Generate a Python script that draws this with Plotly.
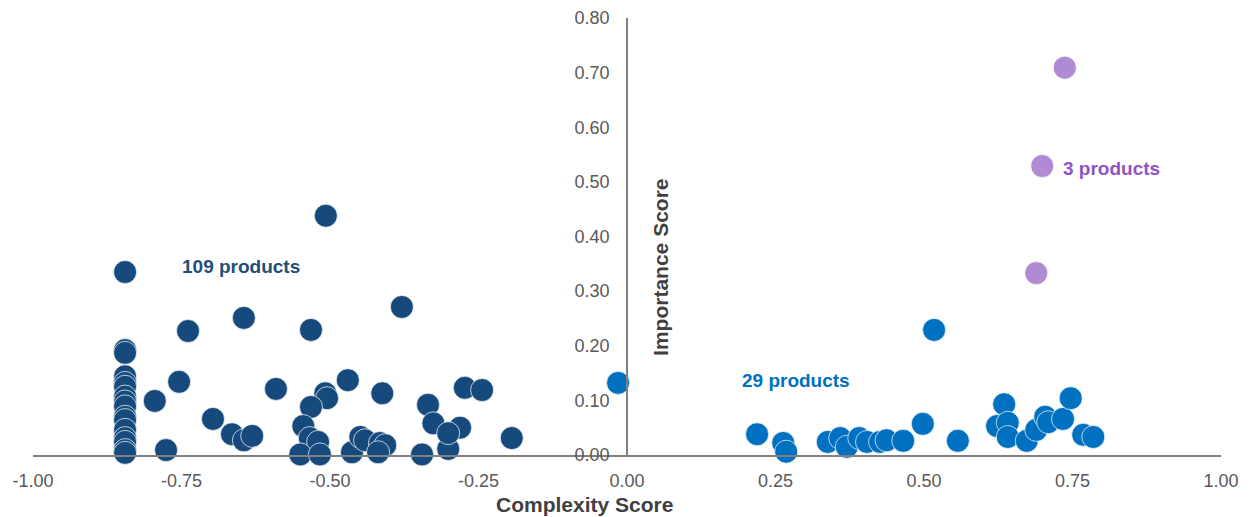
import plotly.graph_objects as go

# Left cluster (109 products)
left_x = [-0.845]*16 + [-0.507, -0.379, -0.645, -0.739, -0.532, -0.754, -0.795, -0.591, -0.697, -0.665,
                        -0.645, -0.631, -0.776, -0.508, -0.505, -0.532, -0.545, -0.534, -0.520, -0.550,
                        -0.517, -0.470, -0.412, -0.463, -0.449, -0.441, -0.416, -0.407, -0.419, -0.335,
                        -0.326, -0.345, -0.301, -0.281, -0.301, -0.273, -0.244, -0.194]
left_y = [0.335, 0.192, 0.187, 0.144, 0.132, 0.125, 0.107, 0.098, 0.089, 0.070, 0.064, 0.046, 0.031,
          0.024, 0.009, 0.004,
          0.438, 0.271, 0.251, 0.227, 0.229, 0.134, 0.099, 0.121, 0.066, 0.038,
          0.027, 0.035, 0.009, 0.113, 0.104, 0.088, 0.053, 0.031, 0.024, 0.001,
          0.001, 0.137, 0.113, 0.005, 0.033, 0.027, 0.022, 0.018, 0.005, 0.092,
          0.058, 0.001, 0.011, 0.050, 0.040, 0.123, 0.119, 0.031]

# Middle cluster (29 products)
mid_x = [-0.015, 0.517, 0.219, 0.263, 0.268, 0.338, 0.359, 0.370, 0.391, 0.404, 0.426, 0.437, 0.465,
         0.498, 0.557, 0.635, 0.623, 0.641, 0.641, 0.673, 0.689, 0.704, 0.709, 0.734, 0.747, 0.768, 0.785]
mid_y = [0.132, 0.229, 0.038, 0.022, 0.006, 0.024, 0.031, 0.015, 0.031, 0.024, 0.024, 0.027, 0.026,
         0.057, 0.026, 0.093, 0.053, 0.059, 0.033, 0.026, 0.046, 0.070, 0.060, 0.066, 0.104, 0.037, 0.033]

# High-importance cluster (3 products)
high_x = [0.737, 0.699, 0.689]
high_y = [0.709, 0.529, 0.333]

x_ticks = [-1.0, -0.75, -0.5, -0.25, 0.0, 0.25, 0.5, 0.75, 1.0]
y_ticks = [0.0, 0.1, 0.2, 0.3, 0.4, 0.5, 0.6, 0.7, 0.8]

FONT = "Liberation Sans, Arial, sans-serif"

fig = go.Figure()
marker_line = dict(color="rgba(255,255,255,0.7)", width=1)
fig.add_trace(go.Scatter(x=left_x, y=left_y, mode="markers", cliponaxis=False,
                         marker=dict(size=23, color="#174A7C", line=marker_line)))
fig.add_trace(go.Scatter(x=mid_x, y=mid_y, mode="markers", cliponaxis=False,
                         marker=dict(size=23, color="#0070C0", line=marker_line)))
fig.add_trace(go.Scatter(x=high_x, y=high_y, mode="markers", cliponaxis=False,
                         marker=dict(size=23, color="#B08AD3", line=marker_line)))

fig.add_annotation(x=-0.65, y=0.346, text="<b>109 products</b>", showarrow=False,
                   font=dict(family=FONT, size=19, color="#1F4E79"))
fig.add_annotation(x=0.285, y=0.137, text="<b>29 products</b>", showarrow=False,
                   font=dict(family=FONT, size=19, color="#0070C0"))
fig.add_annotation(x=0.815, y=0.524, text="<b>3 products</b>", showarrow=False,
                   font=dict(family=FONT, size=19, color="#9052C4"))
fig.add_annotation(x=0.056, y=0.343, text="<b>Importance Score</b>", showarrow=False,
                   textangle=-90, font=dict(family=FONT, size=21, color="#404040"))
fig.add_annotation(x=-0.072, xref="x", y=-0.114, yref="paper", yanchor="middle",
                   text="<b>Complexity Score</b>", showarrow=False,
                   font=dict(family=FONT, size=21, color="#404040"))

# page body has an 8px margin, so the figure is sized/offset to compensate
fig.update_layout(
    width=1242, height=509,
    margin=dict(l=25, r=29, t=10, b=62),
    paper_bgcolor="white", plot_bgcolor="white",
    showlegend=False,
    font=dict(family=FONT, color="#595959", size=18),
    xaxis=dict(range=[-1, 1], tickvals=x_ticks, ticktext=[f"{v:.2f}" for v in x_ticks],
               showgrid=False, zeroline=False, showline=True, linecolor="#808080", linewidth=2,
               ticks="", ticklabelstandoff=8, automargin=False,
               tickfont=dict(size=18, color="#595959")),
    yaxis=dict(range=[0, 0.8], tickvals=y_ticks, ticktext=[f"{v:.2f}" for v in y_ticks],
               showgrid=False, zeroline=False, showline=True, linecolor="#808080", linewidth=1.5,
               anchor="free", position=0.5, ticks="", ticklabelstandoff=13, automargin=False,
               tickfont=dict(size=18, color="#595959")),
)

fig.write_html("out.html")
